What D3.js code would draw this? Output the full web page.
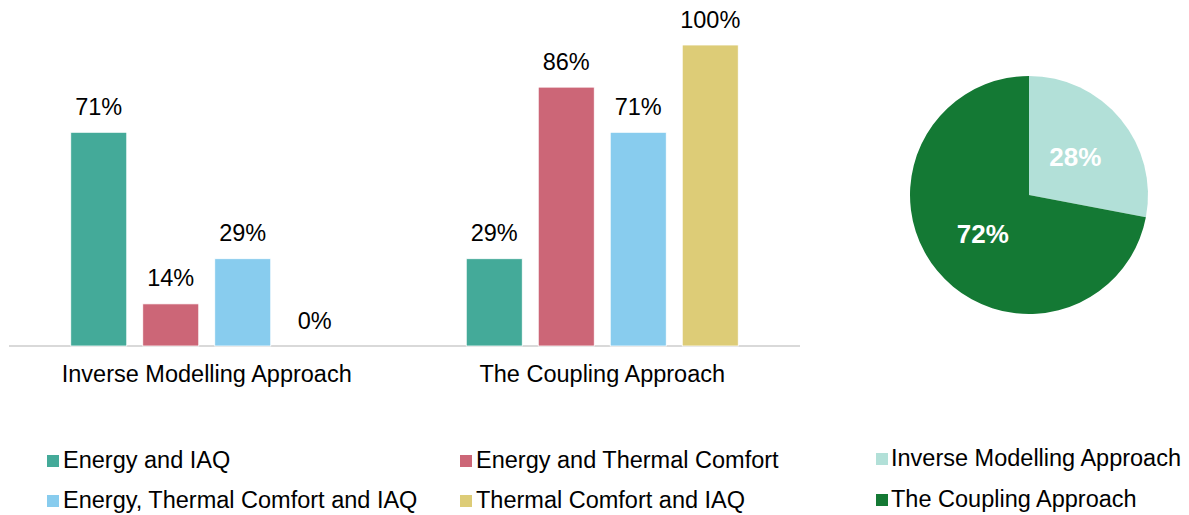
<!DOCTYPE html>
<html>
<head>
<meta charset="utf-8">
<script src="https://cdn.jsdelivr.net/npm/d3@7"></script>
<style>
  body { margin: 0; background: #fff; }
  svg { font-family: "Liberation Sans", Arial, sans-serif; }
</style>
</head>
<body>
<svg width="1189" height="515"></svg>
<script>
(function () {

  // bar chart data
  var approaches = ['Inverse Modelling Approach', 'The Coupling Approach']
  var series = ['Energy and IAQ', 'Energy and Thermal Comfort', 'Energy, Thermal Comfort and IAQ', 'Thermal Comfort and IAQ']
  var seriesColours = ['#44aa99', '#cc6677', '#88ccee', '#ddcc77']
  var inverseValues = [71, 14, 29, 0]
  var couplingValues = [29, 86, 71, 100]

  // pie data
  var pieLabels = ['Inverse Modelling Approach', 'The Coupling Approach']
  var pieValues = [28, 72]
  var pieColours = ['#b2e0d8', '#147934']

  var rows = [inverseValues, couplingValues]
  var fs = 23.5

  var svg = d3.select('svg')

  var xScale = d3.scaleBand().domain(approaches).range([9, 800])
  var innerScale = d3.scaleBand().domain(series).range([-136, 136]).paddingInner(0.222)
  var yScale = d3.scaleLinear().domain([0, 100]).range([346, 45])
  var colour = d3.scaleOrdinal().domain(series).range(seriesColours)

  // baseline
  svg.append('line')
    .attr('x1', 9).attr('x2', 800)
    .attr('y1', 346).attr('y2', 346)
    .attr('stroke', '#d9d9d9')
    .attr('stroke-width', 2)

  var groups = svg.selectAll('g.group')
    .data(approaches)
    .enter().append('g')
    .attr('class', 'group')
    .attr('transform', d => 'translate(' + (xScale(d) + xScale.bandwidth() / 2) + ',0)')

  groups.selectAll('rect')
    .data((d, i) => rows[i].map((v, j) => ({ name: series[j], value: v })))
    .enter().append('rect')
    .attr('x', d => innerScale(d.name))
    .attr('width', innerScale.bandwidth())
    .attr('y', d => yScale(d.value))
    .attr('height', d => yScale(0) - yScale(d.value))
    .attr('fill', d => colour(d.name))
    .attr('stroke', '#fff')
    .attr('stroke-width', 0.8)

  groups.selectAll('text.val')
    .data((d, i) => rows[i].map((v, j) => ({ name: series[j], value: v })))
    .enter().append('text')
    .attr('class', 'val')
    .attr('x', d => innerScale(d.name) + innerScale.bandwidth() / 2)
    .attr('y', d => yScale(d.value) - 17.5)
    .attr('text-anchor', 'middle')
    .attr('font-size', fs)
    .attr('fill', '#000')
    .text(d => d.value + '%')

  groups.append('text')
    .attr('y', 382)
    .attr('text-anchor', 'middle')
    .attr('font-size', fs)
    .attr('fill', '#000')
    .text(d => d)

  // pie
  var pie = d3.pie().sort(null)(pieValues)
  var arc = d3.arc().innerRadius(0).outerRadius(119)
  var labelArc = d3.arc().innerRadius(60).outerRadius(60)

  var pieG = svg.append('g').attr('transform', 'translate(1029,195)')

  pieG.selectAll('path')
    .data(pie)
    .enter().append('path')
    .attr('d', arc)
    .attr('fill', (d, i) => pieColours[i])

  pieG.selectAll('text')
    .data(pie)
    .enter().append('text')
    .attr('transform', d => 'translate(' + labelArc.centroid(d) + ')')
    .attr('text-anchor', 'middle')
    .attr('dy', '0.36em')
    .attr('font-size', 26)
    .attr('font-weight', 'bold')
    .attr('fill', '#fff')
    .text(d => d.value + '%')

  // legends
  var legendPos = [[47, 468], [460, 468], [47, 508], [460, 508]]

  var leg = svg.selectAll('g.leg')
    .data(series)
    .enter().append('g')
    .attr('class', 'leg')
    .attr('transform', (d, i) => 'translate(' + legendPos[i][0] + ',' + legendPos[i][1] + ')')

  leg.append('rect')
    .attr('x', 0).attr('y', -13)
    .attr('width', 12).attr('height', 12)
    .attr('fill', (d, i) => seriesColours[i])
  leg.append('text')
    .attr('x', 16).attr('y', 0)
    .attr('font-size', fs)
    .text(d => d)

  var pieLegY = [466, 507]
  var pieLeg = svg.selectAll('g.pleg')
    .data(pieLabels)
    .enter().append('g')
    .attr('class', 'pleg')
    .attr('transform', (d, i) => 'translate(876,' + pieLegY[i] + ')')

  pieLeg.append('rect')
    .attr('x', 0).attr('y', -13)
    .attr('width', 12).attr('height', 12)
    .attr('fill', (d, i) => pieColours[i])
  pieLeg.append('text')
    .attr('x', 15).attr('y', 0)
    .attr('font-size', fs)
    .text(d => d)

})()
</script>
</body>
</html>
